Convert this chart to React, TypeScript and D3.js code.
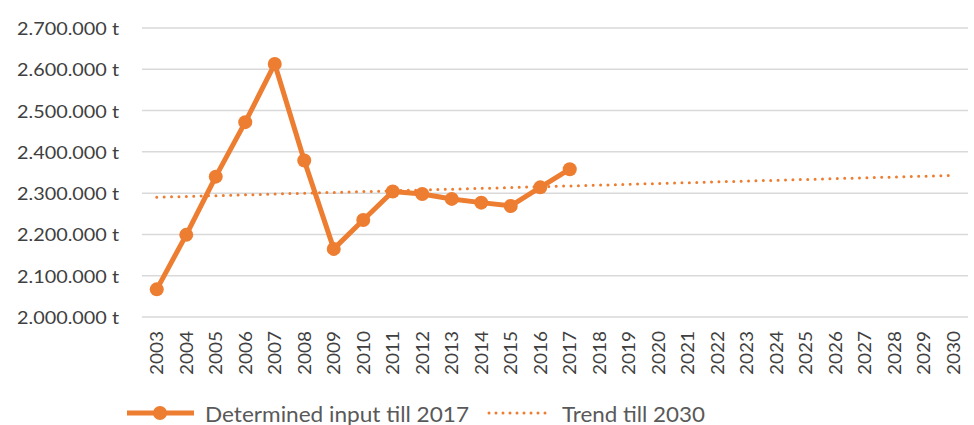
import * as d3 from "d3";

const years = d3.range(2003, 2031).map(String);
const inputYears = d3.range(2003, 2018).map(String);
const inputValues = [
	2067000, 2199000, 2340000, 2472000, 2613000, 2379000, 2165000, 2235000,
	2304000, 2298000, 2286000, 2277000, 2269000, 2314000, 2358000,
];
// linear trend, start and end
const trendYears = ["2003", "2030"];
const trendValues = [2290000, 2343000];
const yTicks = [2000000, 2100000, 2200000, 2300000, 2400000, 2500000, 2600000, 2700000];

const WIDTH = 974;
const HEIGHT = 425;
const ORANGE = "#ED7D31";
const FONT = "Lato, 'Open Sans', sans-serif";

const PLOT_LEFT = 142;
const PLOT_RIGHT = 968;
const PLOT_TOP = 28;
const PLOT_BOTTOM = 317;

const fmt = (v: number) => d3.format(",")(v).replace(/,/g, ".") + " t";

export default function App() {
	const x = d3.scaleBand<string>().domain(years).range([PLOT_LEFT, PLOT_RIGHT]);
	const y = d3.scaleLinear().domain([2000000, 2700000]).range([PLOT_BOTTOM, PLOT_TOP]);
	const cx = (yr: string) => (x(yr) ?? 0) + x.bandwidth() / 2;

	const line = d3
		.line<number>()
		.x((_, i) => cx(inputYears[i]))
		.y((d) => y(d));
	const trendLine = d3
		.line<number>()
		.x((_, i) => cx(trendYears[i]))
		.y((d) => y(d));

	return (
		<svg
			width={WIDTH}
			height={HEIGHT}
			style={{ position: "absolute", left: 0, top: 0, background: "#fff" }}
		>
			{yTicks.map((t) => (
				<g key={t}>
					<line x1={PLOT_LEFT} x2={PLOT_RIGHT} y1={y(t)} y2={y(t)} stroke="#d9d9d9" strokeWidth={1.5} />
					<text
						x={119}
						y={y(t)}
						textAnchor="end"
						dominantBaseline="central"
						fontFamily={FONT}
						fontSize={18}
						fill="#404040"
						textLength={102}
						lengthAdjust="spacingAndGlyphs"
					>
						{fmt(t)}
					</text>
				</g>
			))}
			{years.map((yr) => (
				<text
					key={yr}
					transform={`translate(${cx(yr)}, 331) rotate(-90)`}
					textAnchor="end"
					dominantBaseline="central"
					fontFamily={FONT}
					fontSize={17}
					fill="#404040"
					textLength={44}
					lengthAdjust="spacingAndGlyphs"
				>
					{yr}
				</text>
			))}
			<path
				d={trendLine(trendValues) ?? ""}
				fill="none"
				stroke={ORANGE}
				strokeWidth={3}
				strokeLinecap="round"
				strokeDasharray="0 7.4"
			/>
			<path
				d={line(inputValues) ?? ""}
				fill="none"
				stroke={ORANGE}
				strokeWidth={5}
				strokeLinejoin="round"
			/>
			{inputValues.map((v, i) => (
				<circle key={i} cx={cx(inputYears[i])} cy={y(v)} r={7} fill={ORANGE} />
			))}

			<g fontFamily={FONT} fontSize={21} fill="#595959">
				<line x1={127} x2={194} y1={413} y2={413} stroke={ORANGE} strokeWidth={5} />
				<circle cx={160} cy={413} r={7} fill={ORANGE} />
				<text x={205} y={413} dominantBaseline="central" textLength={264} lengthAdjust="spacingAndGlyphs">
					Determined input till 2017
				</text>
				<line
					x1={489}
					x2={552}
					y1={413}
					y2={413}
					stroke={ORANGE}
					strokeWidth={3}
					strokeLinecap="round"
					strokeDasharray="0 7"
				/>
				<text x={562} y={413} dominantBaseline="central" textLength={143} lengthAdjust="spacingAndGlyphs">
					Trend till 2030
				</text>
			</g>
		</svg>
	);
}
